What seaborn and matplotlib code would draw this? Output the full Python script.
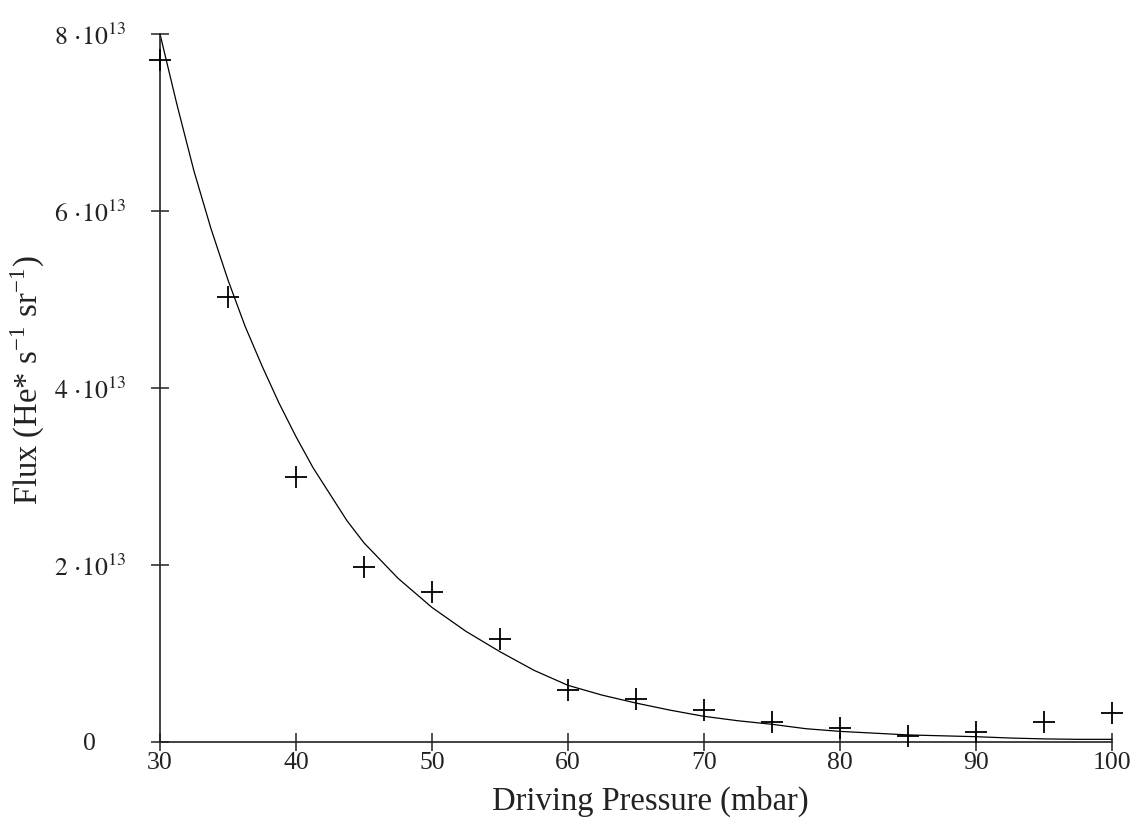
import pandas as pd
import matplotlib
matplotlib.use("Agg")
import matplotlib.pyplot as plt
import seaborn as sns
from matplotlib.ticker import FuncFormatter

# dados medidos (pressão em mbar, fluxo em 1e13 He*/s/sr)
pressao = [30, 35, 40, 45, 50, 55, 60, 65, 70, 75, 80, 85, 90, 95, 100]
fluxo = [7.71, 5.03, 3.00, 1.98, 1.69, 1.16, 0.59, 0.49, 0.36, 0.23, 0.16, 0.07, 0.11, 0.23, 0.33]

# curva de ajuste
pressao_ajuste = [30, 31.25, 32.5, 33.75, 35, 36.25, 37.5, 38.75, 40, 41.25, 42.5, 43.75, 45,
                  47.5, 50, 52.5, 55, 57.5, 60, 62.5, 65, 67.5, 70, 72.5, 75, 77.5, 80,
                  82.5, 85, 87.5, 90, 92.5, 95, 97.5, 100]
fluxo_ajuste = [8.0, 7.2, 6.45, 5.8, 5.22, 4.7, 4.25, 3.83, 3.45, 3.1, 2.8, 2.5, 2.25,
                1.85, 1.52, 1.25, 1.02, 0.81, 0.64, 0.53, 0.44, 0.36, 0.29, 0.24, 0.20, 0.15, 0.12,
                0.10, 0.08, 0.07, 0.06, 0.045, 0.035, 0.03, 0.03]

x_ticks = [30, 40, 50, 60, 70, 80, 90, 100]
y_ticks = [0, 2, 4, 6, 8]

ESCALA = 1e13

df = pd.DataFrame({"p": pressao, "f": [v * ESCALA for v in fluxo]})
df_fit = pd.DataFrame({"p": pressao_ajuste, "f": [v * ESCALA for v in fluxo_ajuste]})

sns.set_style("ticks")
plt.rcParams["font.family"] = ["Liberation Serif", "DejaVu Serif"]
plt.rcParams["mathtext.fontset"] = "stix"

fig = plt.figure(figsize=(11.48, 8.23), dpi=100)
ax = fig.add_axes([160 / 1148, 1 - 742 / 823, (1112 - 160) / 1148, (742 - 34) / 823])

sns.lineplot(data=df_fit, x="p", y="f", ax=ax, color="black", linewidth=0.9, clip_on=False)
sns.scatterplot(data=df, x="p", y="f", ax=ax, marker="+", s=260, color="black",
                linewidth=1.3, clip_on=False, zorder=3)

ax.set_xlim(30, 100)
ax.set_ylim(0, 8 * ESCALA)
ax.set_xticks(x_ticks)
ax.set_yticks([v * ESCALA for v in y_ticks])


def fmt_y(v, pos):
    n = round(v / ESCALA)
    if n == 0:
        return "0"
    return r"$%d\,\cdot\!10^{13}$" % n


ax.yaxis.set_major_formatter(FuncFormatter(fmt_y))

for s in ["top", "right"]:
    ax.spines[s].set_visible(False)
for s in ["left", "bottom"]:
    ax.spines[s].set_color("#222222")
    ax.spines[s].set_linewidth(1.2)

ax.tick_params(axis="both", direction="inout", length=13, width=1.1, color="#222222",
               labelsize=18.5, labelcolor="#222222")
ax.tick_params(axis="x", pad=1)
ax.tick_params(axis="y", pad=44)
# rótulos do eixo y centrados (como no original)
plt.setp(ax.get_yticklabels(), ha="center")

ax.set_xlabel("Driving Pressure (mbar)", fontsize=23.5, color="#222222")
ax.set_ylabel(r"Flux (He* s$^{\mathregular{-1}}$ sr$^{\mathregular{-1}}$)", fontsize=23.5,
              color="#222222")
ax.xaxis.set_label_coords(0.515, -0.062)
ax.yaxis.set_label_coords(-0.12, 0.511)

plt.savefig("out.png", dpi=100)
plt.close()
